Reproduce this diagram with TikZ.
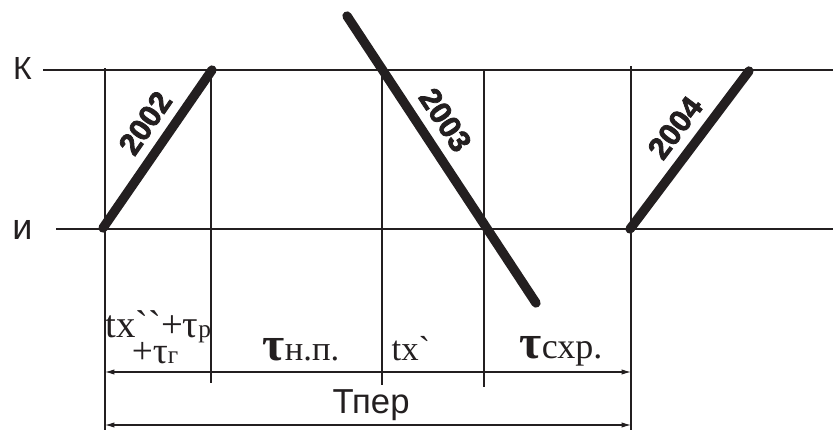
\documentclass[tikz,border=0pt]{standalone}
\usepackage{fontspec}
\setmainfont{Liberation Serif}
\newfontfamily\tnr{Liberation Serif}
\newfontfamily\arl{Liberation Sans}
\newfontfamily\numfont{Liberation Sans}[BoldFeatures={FakeBold=2.5}]
\usetikzlibrary{arrows.meta}
\definecolor{ink}{RGB}{35,31,32}
\newcommand{\fsz}[1]{\fontsize{#1}{#1}\selectfont}
\begin{document}
\begin{tikzpicture}[x=0.75pt,y=-0.75pt,
  axisline/.style={draw=ink,line width=1.6pt},
  gridline/.style={draw=ink,line width=0.8pt},
  train/.style={draw=ink,line width=7pt,line cap=round},
  dimline/.style={draw=ink,line width=0.8pt,{Latex[length=7pt,width=4pt]}-{Latex[length=7pt,width=4pt]}},
  num/.style={font=\numfont\bfseries\fsz{23}, sloped, inner sep=0pt, above=7pt, text=ink},
  lbl/.style={inner sep=0pt, anchor=base, text=ink},
  side/.style={font=\arl\fsz{24}, text=ink, inner sep=0pt}]
\useasboundingbox (0,0) rectangle (833,430);
% axis labels
\node[side] (K) at (22.5,68.5) {К};
\node[side,font=\arl\fsz{27}] (I) at (22.5,230) {и};
% axis lines
\coordinate (K0) at (43,70);  \coordinate (K1) at (833,70);
\coordinate (I0) at (56,229); \coordinate (I1) at (833,229);
\draw[axisline] (K0) -- (K1);
\draw[axisline] (I0) -- (I1);
% vertical lines
\coordinate (v1t) at (105,68);  \coordinate (v1b) at (105,430);
\coordinate (v2t) at (211,70);  \coordinate (v2b) at (211,383);
\coordinate (v3t) at (382,68);  \coordinate (v3b) at (382,385);
\coordinate (v4t) at (484,70);  \coordinate (v4b) at (484,387);
\coordinate (v5t) at (631,66);  \coordinate (v5b) at (631,430);
\draw[gridline] (v1t) -- (v1b);
\draw[gridline] (v2t) -- (v2b);
\draw[gridline] (v3t) -- (v3b);
\draw[gridline] (v4t) -- (v4b);
\draw[gridline] (v5t) -- (v5b);
% train lines
\coordinate (a2) at (103,228); \coordinate (b2) at (212,70);
\coordinate (a3) at (347,16);  \coordinate (b3) at (536,303);
\coordinate (a4) at (630,229); \coordinate (b4) at (749,71);
\draw[train] (a2) -- node[num,pos=0.575] (n2002) {2002} (b2);
\draw[train] (a3) -- node[num,pos=0.41] (n2003) {2003} (b3);
\draw[train] (a4) -- node[num,pos=0.546] (n2004) {2004} (b4);
% dimension arrows
\coordinate (d1l) at (105,372); \coordinate (d1r) at (631,372);
\coordinate (d2l) at (105,425); \coordinate (d2r) at (631,425);
\draw[dimline] (d1l) -- (d1r);
\draw[dimline] (d2l) -- (d2r);
% interval labels
\node[lbl,anchor=base west] (t1a) at (105,337) {\tnr\fsz{29}tx\symbol{96}\symbol{96}+τ{\fsz{19}р}};
\node[lbl] (t1b) at (155,363) {\tnr\fsz{28}+τ{\fsz{19}г}};
\node[lbl] (t2) at (301,360) {\tnr{\fsz{36}\bfseries τ}{\fsz{26}н.п.}};
\node[lbl] (t3) at (411,360) {\tnr\fsz{26}tx\symbol{96}};
\node[lbl] (t4) at (561,358) {\tnr{\fsz{36}\bfseries τ}{\fsz{27}схр.}};
\node[lbl,font=\arl\fsz{26}] (T) at (371,413) {Тпер};
\end{tikzpicture}
\end{document}
